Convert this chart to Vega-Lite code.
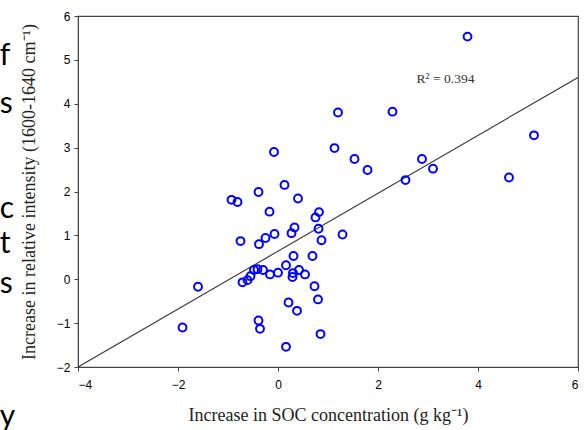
{
  "$schema": "https://vega.github.io/schema/vega-lite/v6.json",
  "width": 500,
  "height": 351,
  "autosize": {"type": "none"},
  "padding": {"left": 78, "top": 16, "right": 10, "bottom": 63},
  "background": "white",
  "config": {
    "view": {"stroke": "#444", "strokeWidth": 1.2},
    "axis": {
      "grid": false,
      "domainColor": "#444",
      "tickColor": "#444",
      "tickSize": 4,
      "labelFont": "Liberation Sans",
      "labelFontSize": 12,
      "labelColor": "black",
      "titleFont": "Liberation Serif",
      "titleFontWeight": "normal",
      "titleFontSize": 18,
      "titleColor": "#222"
    }
  },
  "datasets": {
    "pts": [
      {"soc": -0.08, "ri": 2.90}, {"soc": -0.39, "ri": 1.99}, {"soc": 0.13, "ri": 2.15},
      {"soc": 0.40, "ri": 1.84}, {"soc": -0.93, "ri": 1.81}, {"soc": -0.81, "ri": 1.76},
      {"soc": -0.17, "ri": 1.54}, {"soc": 0.82, "ri": 1.53}, {"soc": 0.75, "ri": 1.41},
      {"soc": 0.33, "ri": 1.18}, {"soc": 0.27, "ri": 1.05}, {"soc": 0.81, "ri": 1.15},
      {"soc": 0.87, "ri": 0.89}, {"soc": -0.07, "ri": 1.03}, {"soc": -0.25, "ri": 0.94},
      {"soc": -0.38, "ri": 0.80}, {"soc": -0.75, "ri": 0.87}, {"soc": 0.31, "ri": 0.53},
      {"soc": 0.69, "ri": 0.53}, {"soc": 0.16, "ri": 0.32}, {"soc": -0.41, "ri": 0.23},
      {"soc": -0.48, "ri": 0.21}, {"soc": -0.30, "ri": 0.21}, {"soc": 0.42, "ri": 0.21},
      {"soc": 0.30, "ri": 0.14}, {"soc": 0.29, "ri": 0.05}, {"soc": 0.00, "ri": 0.15},
      {"soc": -0.16, "ri": 0.11}, {"soc": 0.54, "ri": 0.11}, {"soc": -0.55, "ri": 0.07},
      {"soc": -0.61, "ri": -0.02}, {"soc": -0.71, "ri": -0.07}, {"soc": -1.60, "ri": -0.17},
      {"soc": 0.73, "ri": -0.16}, {"soc": 0.80, "ri": -0.46}, {"soc": 0.21, "ri": -0.53},
      {"soc": 0.38, "ri": -0.72}, {"soc": -0.39, "ri": -0.94}, {"soc": -0.36, "ri": -1.13},
      {"soc": -1.91, "ri": -1.10}, {"soc": 0.85, "ri": -1.25}, {"soc": 0.16, "ri": -1.54},
      {"soc": 1.29, "ri": 1.02}, {"soc": 3.79, "ri": 5.53}, {"soc": 1.20, "ri": 3.80},
      {"soc": 2.29, "ri": 3.82}, {"soc": 1.13, "ri": 2.99}, {"soc": 1.53, "ri": 2.74},
      {"soc": 1.79, "ri": 2.49}, {"soc": 2.88, "ri": 2.74}, {"soc": 3.10, "ri": 2.52},
      {"soc": 2.55, "ri": 2.26}, {"soc": 5.12, "ri": 3.28}, {"soc": 4.62, "ri": 2.32}
    ],
    "fit": [{"soc": -4, "ri": -2}, {"soc": 6, "ri": 4.6}],
    "note": [{"soc": 3.35, "ri": 4.57, "label": "R² = 0.394"}],
    "slide": [
      {"soc": -5.566, "ri": 4.89, "label": "f"},
      {"soc": -5.566, "ri": 3.795, "label": "s"},
      {"soc": -5.566, "ri": 1.40, "label": "c"},
      {"soc": -5.566, "ri": 0.60, "label": "t"},
      {"soc": -5.566, "ri": -0.31, "label": "s"},
      {"soc": -5.566, "ri": -3.35, "label": "y"}
    ]
  },
  "encoding": {
    "x": {
      "field": "soc", "type": "quantitative",
      "scale": {"domain": [-4, 6], "nice": false, "zero": false},
      "axis": {"values": [-4, -2, 0, 2, 4, 6], "title": "Increase in SOC concentration (g kg⁻¹)", "labelPadding": 8, "titlePadding": 16}
    },
    "y": {
      "field": "ri", "type": "quantitative",
      "scale": {"domain": [-2, 6], "nice": false, "zero": false},
      "axis": {"values": [-2, -1, 0, 1, 2, 3, 4, 5, 6], "title": "Increase in relative intensity (1600-1640 cm⁻¹)", "labelPadding": 4, "titlePadding": 18}
    }
  },
  "layer": [
    {
      "data": {"name": "fit"},
      "mark": {"type": "line", "color": "#333", "strokeWidth": 1.1}
    },
    {
      "data": {"name": "pts"},
      "mark": {"type": "point", "shape": "circle", "filled": false, "color": "#0000ff", "size": 62, "strokeWidth": 2, "opacity": 1}
    },
    {
      "data": {"name": "note"},
      "mark": {"type": "text", "font": "Liberation Serif", "fontSize": 13.5, "color": "#333", "align": "center", "baseline": "middle"},
      "encoding": {"text": {"field": "label"}}
    },
    {
      "data": {"name": "slide"},
      "mark": {"type": "text", "font": "Lato", "fontSize": 30, "color": "black", "align": "left", "baseline": "alphabetic", "clip": false},
      "encoding": {"text": {"field": "label"}}
    }
  ]
}
